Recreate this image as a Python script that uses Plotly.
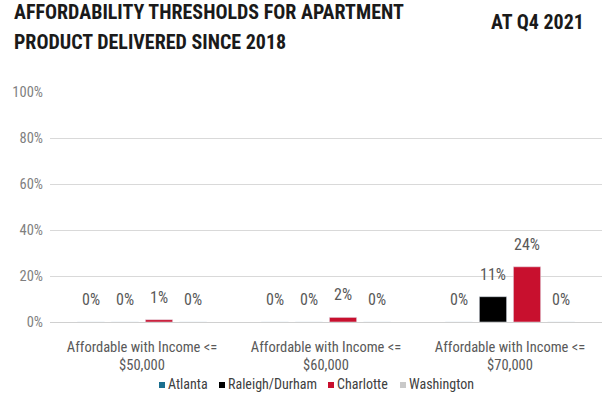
import plotly.graph_objects as go

# Income thresholds (x categories) and share of apartment product affordable, per metro
categories = ["Affordable with Income <=<br>$50,000",
              "Affordable with Income <=<br>$60,000",
              "Affordable with Income <=<br>$70,000"]
series_names = ["Atlanta", "Raleigh/Durham", "Charlotte", "Washington"]
atlanta = [0.0, 0.0, 0.0]
raleigh_durham = [0.0, 0.0, 0.11]
charlotte = [0.01, 0.02, 0.24]
washington = [0.0, 0.0, 0.0]
y_ticks = [0, 0.2, 0.4, 0.6, 0.8, 1.0]

series_values = [atlanta, raleigh_durham, charlotte, washington]
colors = ["#1B6F8F", "#000000", "#C8102E", "#C9C9C9"]

FONT = "Liberation Sans Narrow, Roboto Condensed, Arial Narrow, Liberation Sans, sans-serif"
W, H = 607, 397
M_L, M_R, M_T, M_B = 50, 5, 92, 75
PLOT_W, PLOT_H = W - M_L - M_R, H - M_T - M_B
slot = 0.185      # spacing between bars within a group (category units)
bar_w = 0.148


def px_x(px):
    """Page x pixel -> paper coordinate."""
    return (px - M_L) / PLOT_W


def px_y(px):
    """Page y pixel (from top) -> paper coordinate."""
    return (H - M_B - px) / PLOT_H


fig = go.Figure()
n = len(series_names)
for i, (name, vals, col) in enumerate(zip(series_names, series_values, colors)):
    xs = [k + (i - (n - 1) / 2) * slot for k in range(len(categories))]
    fig.add_trace(go.Bar(x=xs, y=vals, width=bar_w, marker_color=col,
                         name=name, showlegend=False, hoverinfo="y"))
    for x, v in zip(xs, vals):
        fig.add_annotation(x=x, y=v, text=f"{v:.0%}", showarrow=False,
                           yanchor="bottom", yshift=11,
                           font=dict(family=FONT, size=16, color="#595959"))

fig.update_layout(
    width=W, height=H,
    margin=dict(l=M_L, r=M_R, t=M_T, b=M_B, autoexpand=False),
    paper_bgcolor="white", plot_bgcolor="white",
    font=dict(family=FONT, color="#595959"),
    showlegend=False,
    xaxis=dict(range=[-0.5, 2.5], tickvals=list(range(len(categories))),
               ticktext=categories, showgrid=False, zeroline=False,
               showline=False, ticks="", ticklabelstandoff=14,
               tickfont=dict(size=14.5, color="#595959")),
    yaxis=dict(range=[0, 1.0], tickvals=y_ticks, tickformat=".0%",
               showgrid=True, gridcolor="#D9D9D9", gridwidth=1,
               zeroline=True, zerolinecolor="#D0D0D0", zerolinewidth=1,
               ticks="", ticklabelstandoff=6,
               tickfont=dict(size=14.5, color="#7F7F7F")),
)

# Compact key under the axis: small coloured square followed by the metro name
key_swatch_x = [162, 222, 331, 403]
key_y = 384
for name, col, sx in zip(series_names, colors, key_swatch_x):
    fig.add_shape(type="rect", xref="paper", yref="paper",
                  xsizemode="pixel", ysizemode="pixel",
                  xanchor=px_x(sx), yanchor=px_y(key_y + 1),
                  x0=-3, x1=3, y0=-3, y1=3,
                  fillcolor=col, line=dict(width=0))
    fig.add_annotation(xref="paper", yref="paper", x=px_x(sx + 4), y=px_y(key_y),
                       xanchor="left", yanchor="middle", showarrow=False, text=name,
                       font=dict(family=FONT, size=14, color="#404040"))

# Two-line heading on the left, date stamp on the right
title_lines = ["AFFORDABILITY THRESHOLDS FOR APARTMENT", "PRODUCT DELIVERED SINCE 2018"]
for line, y_px in zip(title_lines, [12, 42]):
    fig.add_annotation(xref="paper", yref="paper", x=px_x(12), y=px_y(y_px),
                       xanchor="left", yanchor="middle", showarrow=False,
                       text=f"<b>{line}</b>",
                       font=dict(family=FONT, size=20, color="#1A1A1A"))
fig.add_annotation(xref="paper", yref="paper", x=px_x(586), y=px_y(22),
                   xanchor="right", yanchor="middle", showarrow=False,
                   text="<b>AT Q4 2021</b>",
                   font=dict(family=FONT, size=20, color="#1A1A1A"))

fig.write_html("out.html")
